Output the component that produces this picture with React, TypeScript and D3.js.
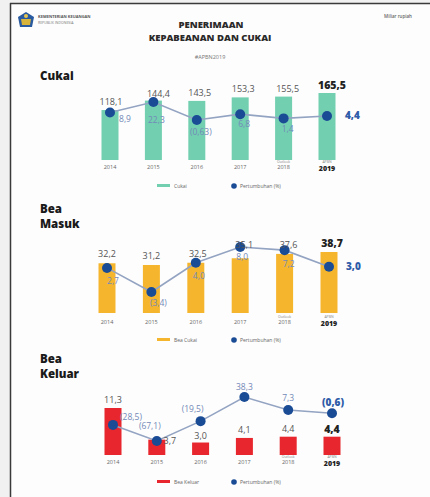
import React from "react";
import * as d3 from "d3";

const years = ["2014", "2015", "2016", "2017", "2018", "2019"];
const yearSub = ["", "", "", "", "Outlook", "APBN"];

const cukaiValues = [118.1, 144.4, 143.5, 153.3, 155.5, 165.5];
const cukaiGrowth = [8.9, 22.3, -0.63, 6.8, 1.4, 4.4];
const cukaiGrowthText = ["8,9", "22,3", "(0,63)", "6,8", "1,4", "4,4"];

const masukValues = [32.2, 31.2, 32.5, 35.1, 37.6, 38.7];
const masukGrowth = [2.7, -3.4, 4.0, 8.0, 7.2, 3.0];
const masukGrowthText = ["2,7", "(3,4)", "4,0", "8,0", "7,2", "3,0"];

const keluarValues = [11.3, 3.7, 3.0, 4.1, 4.4, 4.4];
const keluarGrowth = [-28.5, -67.1, -19.5, 38.3, 7.3, -0.6];
const keluarGrowthText = ["(28,5)", "(67,1)", "(19,5)", "38,3", "7,3", "(0,6)"];

const fmt = (v: number) => v.toFixed(1).replace(".", ",");

const FONT = "'Open Sans', 'DejaVu Sans', sans-serif";
const LINE = "#93a3c2";
const DOT = "#1a4b95";
const GTXT = "#7389b8";

type Panel = {
  title: string[];
  titleY: number;
  legend: string;
  color: string;
  values: number[];
  growth: number[];
  growthText: string[];
  xRange: [number, number];
  barBase: number;
  barDomain: [number, number];
  barTop: number;
  gDomain: [number, number];
  gRange: [number, number];
  gOffsets: [number, number][];
  vOffsets: [number, number][];
  yearY: number;
  legendY: number;
};

const panels: Panel[] = [
  {
    title: ["Cukai"], titleY: 80, legend: "Cukai", color: "#72d0b1",
    values: cukaiValues, growth: cukaiGrowth, growthText: cukaiGrowthText,
    xRange: [110, 327], barBase: 160, barDomain: [-21, 165.5], barTop: 93,
    gDomain: [-0.63, 22.3], gRange: [120, 102],
    gOffsets: [[15, 9], [3, 21], [4, 15], [4, 13], [4, 14], [18, 3]],
    vOffsets: [[1, -5], [5, -4], [3, -5], [3, -5], [4, -5], [5, -4]],
    yearY: 169, legendY: 186,
  },
  {
    title: ["Bea", "Masuk"], titleY: 213, legend: "Bea Cukai", color: "#f5b62e",
    values: masukValues, growth: masukGrowth, growthText: masukGrowthText,
    xRange: [107, 329], barBase: 313, barDomain: [3.5, 38.7], barTop: 252,
    gDomain: [-3.4, 8.0], gRange: [292, 247],
    gOffsets: [[6, 16], [7, 14], [3, 16], [2, 13], [4, 17], [17, 3]],
    vOffsets: [[0, -6], [0, -6], [2, -6], [4, -10], [4, -6], [3, -5]],
    yearY: 324, legendY: 340,
  },
  {
    title: ["Bea", "Keluar"], titleY: 363, legend: "Bea Keluar", color: "#e8262d",
    values: keluarValues, growth: keluarGrowth, growthText: keluarGrowthText,
    xRange: [113, 332], barBase: 455, barDomain: [0, 11.3], barTop: 408,
    gDomain: [-67.1, 38.3], gRange: [441, 397],
    gOffsets: [[18, -5], [-7, -12], [-8, -9], [0, -7], [0, -9], [1, -7]],
    vOffsets: [[0, -5], [13, 4], [0, -4], [0, -5], [0, -5], [0, -4]],
    yearY: 464, legendY: 482,
  },
];

function PanelView({ p }: { p: Panel }) {
  const x = d3.scalePoint<string>().domain(years).range(p.xRange);
  const yBar = d3.scaleLinear().domain(p.barDomain).range([p.barBase, p.barTop]);
  const yG = d3.scaleLinear().domain(p.gDomain).range(p.gRange);
  const bw = 17;
  const line = d3
    .line<number>()
    .x((_, i) => x(years[i]) as number)
    .y((d) => yG(d));
  const last = years.length - 1;
  return (
    <g>
      {p.title.map((t, i) => (
        <text key={t} x={40} y={p.titleY + i * 14.5} fontFamily={FONT} fontWeight={800} fontSize={11.5} fill="#1a1a1a">
          {t}
        </text>
      ))}
      {p.values.map((v, i) => (
        <rect key={"b" + i} x={(x(years[i]) as number) - bw / 2} y={yBar(v)} width={bw} height={p.barBase - yBar(v)} fill={p.color} />
      ))}
      <path d={line(p.growth) || ""} fill="none" stroke={LINE} strokeWidth={1.6} />
      {p.growth.map((g, i) => (
        <circle key={"c" + i} cx={x(years[i]) as number} cy={yG(g)} r={5} fill={DOT} />
      ))}
      {p.values.map((v, i) => (
        <text
          key={"v" + i}
          x={(x(years[i]) as number) + p.vOffsets[i][0]}
          y={yBar(v) + p.vOffsets[i][1]}
          textAnchor="middle"
          fontFamily={FONT}
          fontSize={i === last ? 10.5 : 9}
          fontWeight={i === last ? 800 : 500}
          fill={i === last ? "#222" : "#555"}
        >
          {fmt(v)}
        </text>
      ))}
      {p.growth.map((g, i) => (
        <text
          key={"g" + i}
          x={(x(years[i]) as number) + p.gOffsets[i][0]}
          y={yG(g) + p.gOffsets[i][1]}
          textAnchor={i === last && p.gOffsets[i][0] > 10 ? "start" : "middle"}
          fontFamily={FONT}
          fontSize={i === last ? 10 : 8.5}
          fontWeight={i === last ? 800 : 500}
          fill={i === last ? "#2f5ca8" : GTXT}
        >
          {p.growthText[i]}
        </text>
      ))}
      {years.map((yr, i) => (
        <g key={"y" + i}>
          {yearSub[i] && (
            <text x={x(yr) as number} y={p.yearY - 6.5} textAnchor="middle" fontFamily={FONT} fontSize={3.5} fill="#888">
              {yearSub[i]}
            </text>
          )}
          <text
            x={x(yr) as number}
            y={p.yearY + (i === last ? 1.5 : 0)}
            textAnchor="middle"
            fontFamily={FONT}
            fontSize={i === last ? 7 : 5.5}
            fontWeight={i === last ? 800 : 400}
            fill={i === last ? "#222" : "#666"}
          >
            {yr}
          </text>
        </g>
      ))}
      <rect x={157} y={p.legendY - 2} width={13} height={3} fill={p.color} />
      <text x={174} y={p.legendY + 1.5} fontFamily={FONT} fontSize={5} fill="#666">
        {p.legend}
      </text>
      <circle cx={234} cy={p.legendY} r={2.8} fill={DOT} />
      <text x={240} y={p.legendY + 1.5} fontFamily={FONT} fontSize={5} fill="#666">
        Pertumbuhan (%)
      </text>
    </g>
  );
}

export default function App() {
  return (
    <svg
      width={430}
      height={497}
      viewBox="0 0 430 497"
      style={{ position: "absolute", left: 0, top: 0, background: "#ffffff" }}
    >
      <rect x={0} y={0} width={430} height={497} fill="#fdfdfd" />
      <rect x={0} y={0} width={10} height={497} fill="#f1f1f1" />
      <rect x={10} y={0} width={420} height={3} fill="#f1f1f1" />
      <line x1={10} y1={3.5} x2={430} y2={3.5} stroke="#3a3a3a" strokeWidth={1.5} />
      <line x1={10.5} y1={3} x2={10.5} y2={497} stroke="#3a3a3a" strokeWidth={1.5} />

      <g transform="translate(26,20)">
        <path d="M0,-8 L8,-3 L6,7 L-6,7 L-8,-3 Z" fill="#2a5aa0" />
        <path d="M-5,-1 L5,-1 L4,5 L-4,5 Z" fill="#d9b43a" />
        <circle cx={0} cy={-4} r={2} fill="#e7c552" />
      </g>
      <text x={38} y={18} fontFamily={FONT} fontSize={4} fontWeight={700} fill="#555">KEMENTERIAN KEUANGAN</text>
      <text x={38} y={23.5} fontFamily={FONT} fontSize={3.5} fill="#777">REPUBLIK INDONESIA</text>

      <text x={211} y={28} textAnchor="middle" fontFamily={FONT} fontWeight={800} fontSize={9.5} fill="#2a2a2a">PENERIMAAN</text>
      <text x={210} y={41} textAnchor="middle" fontFamily={FONT} fontWeight={800} fontSize={9.5} fill="#2a2a2a">KEPABEANAN DAN CUKAI</text>
      <text x={210} y={59} textAnchor="middle" fontFamily={FONT} fontSize={5.5} fill="#777">#APBN2019</text>
      <text x={384} y={18} fontFamily={FONT} fontSize={4.5} fontWeight={600} fill="#666">Miliar rupiah</text>

      {panels.map((p, i) => (
        <PanelView key={i} p={p} />
      ))}
    </svg>
  );
}
